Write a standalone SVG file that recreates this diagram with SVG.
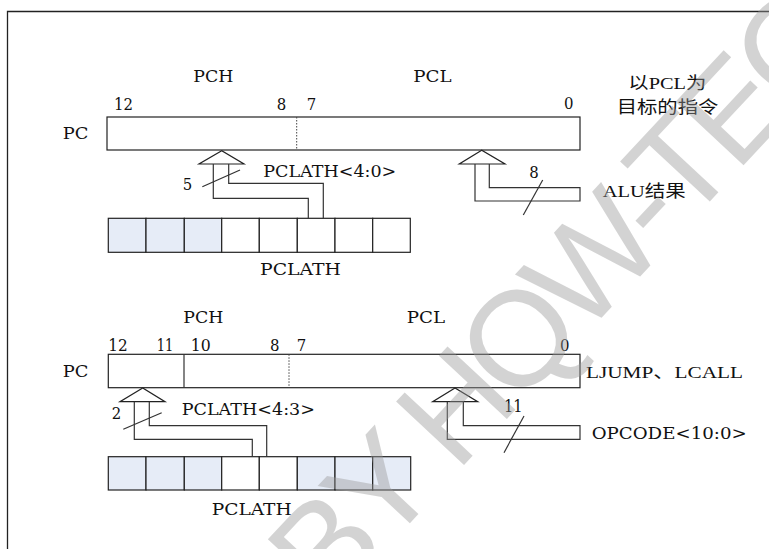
<svg xmlns="http://www.w3.org/2000/svg" width="769" height="549" viewBox="0 0 769 549" font-family="DejaVu Serif, Liberation Serif, serif" font-size="17">
<style>
text{fill:#111;}
.box{fill:#fff;stroke:#222;stroke-width:1.2;}
.cell{fill:#fff;stroke:#222;stroke-width:1.2;}
.sh{fill:#e6ecf7;}
.dot{stroke:#444;stroke-width:1;stroke-dasharray:1.5 1.5;fill:none;}
.ln{fill:none;stroke:#333;stroke-width:1.2;}
.arr{fill:#fff;stroke:#222;stroke-width:1.2;}
text.wm{fill:#999;opacity:0.42;}
</style>
<rect width="769" height="549" fill="#fff"/>
<path d="M7.5,549 V11.5 H769" fill="none" stroke="#222" stroke-width="1.3"/>

<g id="top-pc">
<rect class="box" x="107" y="117" width="473" height="33"/>
<line class="dot" x1="296.7" y1="117" x2="296.7" y2="150"/>
<text x="62.7" y="139.3" textLength="25.6" lengthAdjust="spacingAndGlyphs">PC</text>
<text x="193.3" y="81.7" textLength="40" lengthAdjust="spacingAndGlyphs">PCH</text>
<text x="413.3" y="82" textLength="38.3" lengthAdjust="spacingAndGlyphs">PCL</text>
<text x="114" y="110" textLength="19" lengthAdjust="spacingAndGlyphs">12</text>
<text x="276.7" y="110" textLength="9.5" lengthAdjust="spacingAndGlyphs">8</text>
<text x="306.7" y="110" textLength="9.5" lengthAdjust="spacingAndGlyphs">7</text>
<text x="564" y="109" textLength="9.5" lengthAdjust="spacingAndGlyphs">0</text>
<text x="628.3" y="89.3" textLength="78" lengthAdjust="spacingAndGlyphs" font-family="Liberation Serif, DejaVu Serif, Noto Sans CJK SC, serif">以PCL为</text>
<text x="616.7" y="113.3" textLength="101.7" lengthAdjust="spacingAndGlyphs" font-family="Noto Sans CJK SC, sans-serif">目标的指令</text>
</g>

<g id="top-pclath">
<rect class="cell sh" x="108.3" y="218.3" width="37.7" height="34"/>
<rect class="cell sh" x="146" y="218.3" width="38.3" height="34"/>
<rect class="cell sh" x="184.3" y="218.3" width="37.4" height="34"/>
<rect class="cell" x="221.7" y="218.3" width="37.6" height="34"/>
<rect class="cell" x="259.3" y="218.3" width="38" height="34"/>
<rect class="cell" x="297.3" y="218.3" width="37.7" height="34"/>
<rect class="cell" x="335" y="218.3" width="37.7" height="34"/>
<rect class="cell" x="372.7" y="218.3" width="37.6" height="34"/>
<text x="260" y="275" textLength="81" lengthAdjust="spacingAndGlyphs">PCLATH</text>
</g>

<g id="top-alu">
<text x="602.7" y="197.3" textLength="83" lengthAdjust="spacingAndGlyphs" font-family="Liberation Serif, DejaVu Serif, Noto Sans CJK SC, serif">ALU结果</text>
</g>

<g id="bottom-pc">
<rect class="box" x="108.3" y="354.3" width="471.7" height="33.4"/>
<line class="ln" x1="184" y1="354.3" x2="184" y2="387.7"/>
<line class="dot" x1="289" y1="354.3" x2="289" y2="387.7"/>
<text x="62.7" y="376.7" textLength="25.6" lengthAdjust="spacingAndGlyphs">PC</text>
<text x="183.3" y="322.7" textLength="40" lengthAdjust="spacingAndGlyphs">PCH</text>
<text x="406.7" y="323.3" textLength="38.3" lengthAdjust="spacingAndGlyphs">PCL</text>
<text x="108.3" y="350.7" textLength="19.4" lengthAdjust="spacingAndGlyphs">12</text>
<text x="156.7" y="350.7" textLength="16.6" lengthAdjust="spacingAndGlyphs">11</text>
<text x="190.7" y="350.7" textLength="20" lengthAdjust="spacingAndGlyphs">10</text>
<text x="270" y="350.7" textLength="9.5" lengthAdjust="spacingAndGlyphs">8</text>
<text x="296.7" y="350.7" textLength="9.5" lengthAdjust="spacingAndGlyphs">7</text>
<text x="560" y="350.7" textLength="9.5" lengthAdjust="spacingAndGlyphs">0</text>
<text x="586" y="378.3" textLength="157" lengthAdjust="spacingAndGlyphs" font-family="Liberation Serif, DejaVu Serif, Noto Sans CJK SC, serif">LJUMP、LCALL</text>
</g>

<g id="bottom-pclath">
<rect class="cell sh" x="108.3" y="456.7" width="37.7" height="33.3"/>
<rect class="cell sh" x="146" y="456.7" width="38.3" height="33.3"/>
<rect class="cell sh" x="184.3" y="456.7" width="37.4" height="33.3"/>
<rect class="cell" x="221.7" y="456.7" width="37.6" height="33.3"/>
<rect class="cell" x="259.3" y="456.7" width="38" height="33.3"/>
<rect class="cell sh" x="297.3" y="456.7" width="37.7" height="33.3"/>
<rect class="cell sh" x="335" y="456.7" width="37.7" height="33.3"/>
<rect class="cell sh" x="372.7" y="456.7" width="38" height="33.3"/>
<text x="211.7" y="515" textLength="80" lengthAdjust="spacingAndGlyphs">PCLATH</text>
</g>

<g id="bottom-opcode">
<text x="591.7" y="439" textLength="155" lengthAdjust="spacingAndGlyphs">OPCODE&lt;10:0&gt;</text>
</g>

<g id="connectors">
<polygon class="arr" points="221.7,150.7 199,164 244,164"/>
<polyline class="ln" points="213.3,164 213.3,198.3 308.3,198.3 308.3,218.3"/>
<polyline class="ln" points="228.7,164 228.7,183.3 323.3,183.3 323.3,218.3"/>
<line class="ln" x1="202.3" y1="186.7" x2="240" y2="170"/>
<text x="182.7" y="190" textLength="9.5" lengthAdjust="spacingAndGlyphs">5</text>
<text x="263.3" y="177" textLength="133" lengthAdjust="spacingAndGlyphs">PCLATH&lt;4:0&gt;</text>
<polygon class="arr" points="481.7,150.3 459.3,164 505,164"/>
<polyline class="ln" points="475,164 475,201 580,201 580,187.7 489.3,187.7 489.3,164"/>
<line class="ln" x1="523.3" y1="215" x2="542.7" y2="180"/>
<text x="529.3" y="178.3" textLength="9.5" lengthAdjust="spacingAndGlyphs">8</text>
<polygon class="arr" points="142.7,388 120,401.7 165,401.7"/>
<polyline class="ln" points="134.3,401.7 134.3,439.3 252.3,439.3 252.3,456.7"/>
<polyline class="ln" points="149.3,401.7 149.3,425.7 266.7,425.7 266.7,456.7"/>
<line class="ln" x1="123.3" y1="429.3" x2="161.7" y2="412.7"/>
<text x="111.7" y="419.3" textLength="9.5" lengthAdjust="spacingAndGlyphs">2</text>
<text x="181.7" y="415" textLength="133.3" lengthAdjust="spacingAndGlyphs">PCLATH&lt;4:3&gt;</text>
<polygon class="arr" points="455,388 432.7,401.7 477.7,401.7"/>
<polyline class="ln" points="447.3,401.7 447.3,439.3 580,439.3 580,425.7 463.3,425.7 463.3,401.7"/>
<line class="ln" x1="504" y1="452.7" x2="524" y2="416"/>
<text x="504" y="411.7" textLength="18.7" lengthAdjust="spacingAndGlyphs">11</text>
</g>

<text class="wm" x="590" y="330" text-anchor="middle" font-family="Liberation Sans, Arial, sans-serif" font-size="135" letter-spacing="-9" transform="rotate(-47 590 330)">BY HQW-TEC</text>
</svg>
